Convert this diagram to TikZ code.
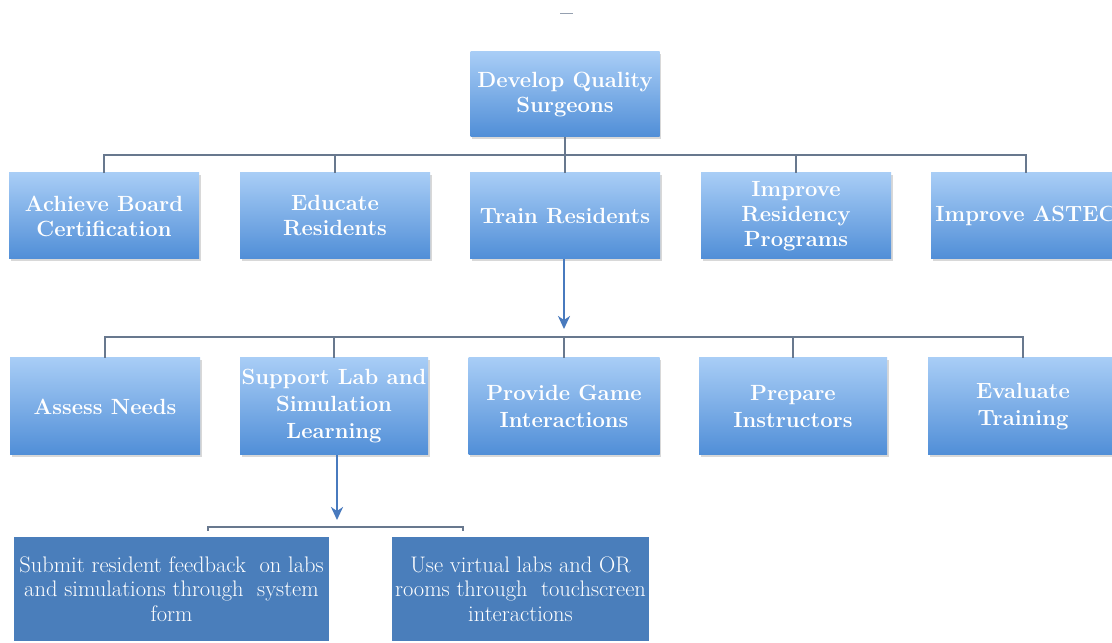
\documentclass[tikz,border=0pt]{standalone}
\usepackage{fontspec}
\usetikzlibrary{shadows,arrows.meta}

\definecolor{boxtop}{RGB}{168,205,246}
\definecolor{boxbot}{RGB}{80,142,215}
\definecolor{taskblue}{RGB}{74,126,187}
\definecolor{linkgray}{RGB}{104,120,142}
\definecolor{arrowblue}{RGB}{72,122,190}

\tikzset{
  goal/.style={rectangle, top color=boxtop, bottom color=boxbot,
    minimum width=190pt, minimum height=86pt, inner sep=0pt,
    text=white, align=center,
    font=\fontsize{22}{25}\selectfont\bfseries,
    drop shadow={opacity=0.3, shadow xshift=1.5pt, shadow yshift=-2pt}},
  subgoal/.style={goal, minimum height=97pt,
    font=\fontsize{22}{27}\selectfont\bfseries},
  task/.style={rectangle, fill=taskblue, inner sep=0pt,
    minimum height=104pt, text=white, align=center,
    font=\fontsize{22.5}{24.5}\selectfont},
  link/.style={draw=linkgray, line width=1.4pt},
  flow/.style={draw=arrowblue, line width=2.6pt,
    -{Stealth[length=13pt,width=12pt,inset=4pt]}}
}

\begin{document}
\begin{tikzpicture}[x=1pt,y=1pt]
  \fill[white] (0,0) rectangle (1112,643);
  \clip (0,0) rectangle (1112,643);

  % small mark above the chart
  \draw[linkgray!70, line width=1pt] (560,629) -- (573,629);

  % top goal
  \node[goal, minimum width=189pt, minimum height=85pt] (top) at (565,548.5)
    {Develop Quality\\Surgeons};

  % first level
  \node[goal] (cert) at (104,427)  {Achieve Board\\Certification};
  \node[goal] (edu)  at (335,427)  {Educate\\Residents};
  \node[goal] (train) at (565,427) {Train Residents};
  \node[goal] (prog) at (796,427)  {Improve\\Residency\\Programs};
  \node[goal] (astec) at (1026,427) {Improve ASTEC};

  \coordinate (hubA) at (565,488);
  \draw[link] (top.south) -- (hubA);
  \foreach \n in {cert,edu,train,prog,astec}
    \draw[link] (hubA) -| (\n.north);

  % second level
  \node[subgoal] (needs) at (105,236.5) {Assess Needs};
  \node[subgoal, minimum width=188pt] (lab) at (334,236.5)
    {Support Lab and\\Simulation\\Learning};
  \node[subgoal, minimum width=191pt] (game) at (564,236.5)
    {Provide Game\\Interactions};
  \node[subgoal, minimum width=188pt] (instr) at (793,236.5)
    {Prepare\\Instructors};
  \node[subgoal] (eval) at (1023,236.5) {Evaluate\\Training};

  \coordinate (hubB) at (564,306);
  \foreach \n in {needs,lab,game,instr,eval}
    \draw[link] (hubB) -| (\n.north);
  \draw[flow, shorten >=8pt] (train.south -| hubB) -- (hubB);

  % tasks
  \node[task, minimum width=315pt] (feedback) at (171.5,54)
    {Submit resident feedback\ \ on labs\\and simulations through\ \ system\\form};
  \node[task, minimum width=257pt] (virtual) at (520.5,54)
    {Use virtual labs and OR\\rooms through\ \ touchscreen\\interactions};

  \coordinate (hubC) at (337,116);
  \coordinate (bracketL) at (208,112);
  \coordinate (bracketR) at (463,112);
  \draw[link, line width=1.2pt] (bracketL) |- (hubC) -| (bracketR);
  \draw[flow, shorten >=7pt] (lab.south -| hubC) -- (hubC);
\end{tikzpicture}
\end{document}
